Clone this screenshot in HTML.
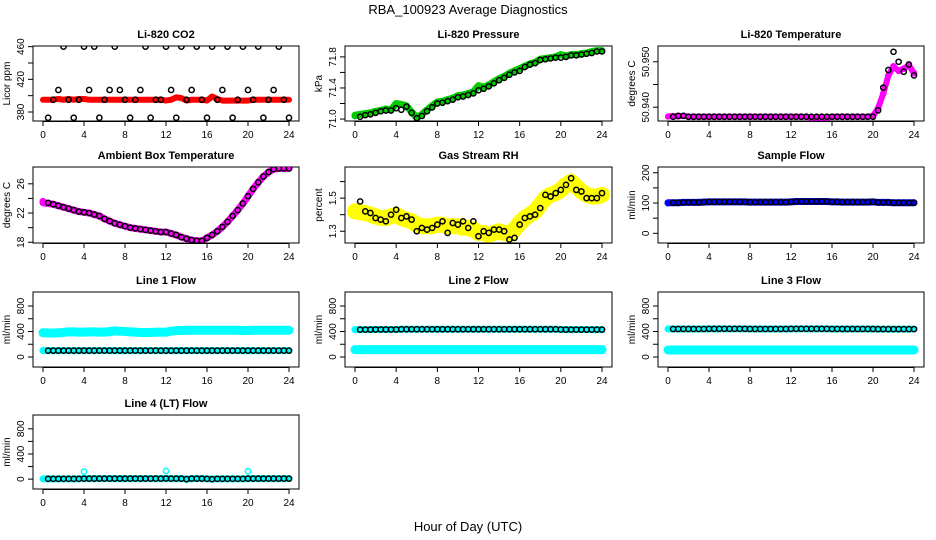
<!DOCTYPE html>
<html><head><meta charset="utf-8"><style>
body{margin:0;background:#fff}
svg{display:block;font-family:"Liberation Sans",sans-serif}
</style></head><body>
<svg id="c" width="936" height="540" viewBox="0 0 936 540">
<text x="468" y="14" text-anchor="middle" font-size="13">RBA_100923  Average Diagnostics</text>
<text x="468" y="531" text-anchor="middle" font-size="13">Hour of Day (UTC)</text>
</svg>
<script>
const hours=[0.5,1,1.5,2,2.5,3,3.5,4,4.5,5,5.5,6,6.5,7,7.5,8,8.5,9,9.5,10,10.5,11,11.5,12,12.5,13,13.5,14,14.5,15,15.5,16,16.5,17,17.5,18,18.5,19,19.5,20,20.5,21,21.5,22,22.5,23,23.5,24];
const co2Avg=[373,395,407,460,395,373,395,460,407,460,373,395,407,460,407,395,373,395,407,460,373,395,395,460,407,373,460,395,407,460,395,373,460,395,407,460,373,395,460,407,395,460,373,395,407,460,395,373];
const co2Raw=[395,395,396,395,396,395,396,396,395,395,395,395,395,395,395,395,395,395,395,395,395,395,395,394,395,398,397,394,395,395,395,394,399,396,394,394,394,394,394,394,395,395,395,395,395,395,395,395];
const pressAvg=[71.03,71.05,71.06,71.08,71.10,71.11,71.11,71.14,71.12,71.16,71.08,71.01,71.04,71.10,71.15,71.20,71.21,71.23,71.25,71.28,71.29,71.31,71.33,71.37,71.39,71.42,71.46,71.50,71.53,71.57,71.60,71.62,71.67,71.70,71.72,71.76,71.77,71.78,71.79,71.79,71.80,71.82,71.82,71.83,71.84,71.85,71.87,71.87];
const pressRaw=[71.05,71.07,71.08,71.10,71.11,71.13,71.12,71.20,71.19,71.17,71.09,71.02,71.06,71.12,71.17,71.22,71.23,71.25,71.27,71.30,71.31,71.33,71.35,71.43,71.41,71.44,71.48,71.52,71.55,71.59,71.62,71.65,71.68,71.71,71.73,71.77,71.78,71.79,71.80,71.83,71.81,71.83,71.83,71.84,71.85,71.87,71.88,71.88];
const tempAvg=[50.9379,50.9381,50.9381,50.9379,50.9379,50.9379,50.9379,50.9379,50.9379,50.9379,50.9379,50.9379,50.9379,50.9379,50.9379,50.9379,50.9379,50.9379,50.9379,50.9379,50.9379,50.9379,50.9379,50.9379,50.9379,50.9379,50.9379,50.9379,50.9379,50.9379,50.9379,50.9379,50.9379,50.9379,50.9379,50.9379,50.9379,50.9379,50.9379,50.9379,50.9393,50.9443,50.9482,50.9522,50.9500,50.9478,50.9494,50.9470];
const tempRaw=[50.9380,50.9380,50.9381,50.9379,50.9379,50.9379,50.9379,50.9379,50.9379,50.9379,50.9379,50.9379,50.9379,50.9379,50.9379,50.9379,50.9379,50.9379,50.9379,50.9379,50.9379,50.9379,50.9379,50.9379,50.9379,50.9379,50.9379,50.9377,50.9377,50.9377,50.9377,50.9379,50.9379,50.9379,50.9379,50.9379,50.9379,50.9379,50.9379,50.9381,50.9398,50.9430,50.9470,50.9490,50.9480,50.9485,50.9492,50.9475];
const ambAvg=[23.4,23.2,23.0,22.8,22.6,22.4,22.2,22.1,22.0,21.8,21.6,21.2,20.9,20.6,20.4,20.2,20.0,19.9,19.8,19.7,19.6,19.5,19.4,19.4,19.2,19.0,18.7,18.5,18.3,18.2,18.2,18.6,19.0,19.5,20.1,20.8,21.6,22.4,23.3,24.3,25.3,26.2,27.0,27.6,28.0,28.1,28.1,28.1];
const rhAvg=[1.48,1.42,1.41,1.38,1.37,1.36,1.40,1.43,1.38,1.39,1.37,1.30,1.32,1.31,1.32,1.34,1.36,1.29,1.35,1.34,1.36,1.32,1.36,1.27,1.30,1.29,1.31,1.31,1.30,1.25,1.26,1.34,1.38,1.39,1.40,1.44,1.52,1.51,1.53,1.55,1.58,1.62,1.55,1.54,1.50,1.50,1.50,1.53];
const rhRaw=[1.42,1.41,1.40,1.39,1.38,1.38,1.39,1.40,1.38,1.37,1.36,1.34,1.33,1.33,1.33,1.34,1.34,1.33,1.33,1.33,1.32,1.32,1.31,1.29,1.29,1.28,1.29,1.30,1.29,1.28,1.31,1.35,1.38,1.40,1.42,1.46,1.50,1.52,1.53,1.55,1.58,1.60,1.57,1.54,1.52,1.51,1.51,1.52];
const sampleAvg=[101,101,102,102,102,102,103,104,104,104,104,104,104,104,104,103,103,103,103,103,103,103,103,104,105,105,105,105,105,105,105,104,104,103,103,103,103,103,103,104,102,102,102,101,101,101,101,101];
const line1High=[380,375,380,385,395,395,390,390,395,395,390,390,400,410,405,400,395,390,385,385,385,390,390,390,405,415,415,420,420,420,420,420,420,420,420,420,420,420,415,415,420,420,420,420,420,420,420,420];
const line1Avg=[100,100,100,100,100,100,100,100,100,100,100,100,100,100,100,100,100,100,100,100,100,100,100,100,100,100,100,100,100,100,100,100,100,100,100,100,100,100,100,100,100,100,100,100,100,100,100,100];
const line2Avg=[430,430,430,432,432,432,432,432,435,435,435,435,435,435,435,435,435,435,435,435,435,435,435,435,435,435,435,435,435,435,435,435,435,435,435,435,435,435,435,432,430,430,430,430,430,430,430,430];
const line2Low=[115,115,115,115,115,115,115,115,115,115,115,115,115,115,115,115,115,115,115,115,115,115,115,115,115,115,115,115,115,115,115,115,115,115,115,115,115,115,115,115,115,115,115,115,115,115,115,115];
const line3Avg=[440,440,440,440,440,440,440,442,442,442,442,442,442,442,442,440,440,440,440,440,440,440,440,442,442,442,442,442,442,442,442,440,440,440,440,440,440,440,440,440,438,438,438,438,438,438,438,438];
const line3Low=[110,110,110,110,110,110,110,110,110,110,110,110,110,110,110,110,110,110,110,110,110,110,110,110,110,110,110,110,110,110,110,110,110,110,110,110,110,110,110,110,110,110,110,110,110,110,110,110];
const line4Avg=[5,5,5,5,5,5,5,8,8,8,8,8,8,8,8,8,8,8,8,8,8,8,8,10,8,8,8,0,8,8,8,5,0,5,5,5,5,5,5,8,8,8,8,8,8,8,8,8];
const line4Spike=[5,5,5,5,5,5,5,120,5,5,5,5,5,5,5,5,5,5,5,5,5,5,5,130,5,5,5,-10,5,5,5,5,5,5,5,5,5,5,5,125,5,5,5,5,5,5,5,5];

const NS="http://www.w3.org/2000/svg";
const svg=document.getElementById('c');
function mk(tag,at,parent){const e=document.createElementNS(NS,tag);for(const k in at)e.setAttribute(k,at[k]);(parent||svg).appendChild(e);return e;}
const cols=[[33,299],[345,612],[658,924]];
const rows=[[46,121],[167,243],[292,367],[415,489]];

function panel(name,col,row,title,ytitle,ymin,ymax,ticks,labels,series){
  const [L,R]=cols[col],[T,B]=rows[row];
  const g=mk('g',{});
  
  
  const xs=h=>L+10+h*(R-L-20)/24;
  const ys=v=>B-(v-ymin)/(ymax-ymin)*(B-T);
  const t=mk('text',{x:(L+R)/2,y:T-8,'text-anchor':'middle','font-size':11,'font-weight':'bold'},g);t.textContent=title;
  
  
  const box=mk('rect',{x:L,y:T,width:R-L,height:B-T,fill:'none',stroke:'#000','stroke-width':1},g);
  
  
  // x axis
  for(let h=0;h<=24;h+=4){
    mk('line',{x1:xs(h),x2:xs(h),y1:B,y2:B+5,stroke:'#000'},g);
    const tl=mk('text',{x:xs(h),y:B+17,'text-anchor':'middle','font-size':10},g);tl.textContent=h;
    
    
  }
  mk('line',{x1:xs(0),x2:xs(24),y1:B+0.5,y2:B+0.5,stroke:'#000'},g);
  ticks.forEach((v,i)=>{
    const y=ys(v);
    mk('line',{x1:L-5,x2:L,y1:y,y2:y,stroke:'#000'},g);
    if(labels[i]){const tl=mk('text',{x:L-9,y:y,'text-anchor':'middle','font-size':10,transform:`rotate(-90 ${L-9} ${y})`},g);tl.textContent=labels[i];
      
      }
  });
  const yt=mk('text',{x:L-23,y:(T+B)/2,'text-anchor':'middle','font-size':10,transform:`rotate(-90 ${L-23} ${(T+B)/2})`},g);yt.textContent=ytitle;
  
  
  const clip='cl'+name;
  const cp=mk('clipPath',{id:clip},g);mk('rect',{x:L,y:T,width:R-L,height:B-T},cp);
  const pg=mk('g',{'clip-path':`url(#${clip})`},g);
  series.forEach(s=>{
    if(s.band){
      const pts=s.vals.map((v,i)=>xs(i===0&&s.start?0:hours[i])+','+ys(v));
      if(s.start!==undefined) pts.unshift(xs(0)+','+ys(s.start));
      const pl=mk('polyline',{points:pts.join(' '),fill:'none',stroke:s.color,'stroke-width':s.band,'stroke-linejoin':'round','stroke-linecap':'round'},pg);
      
      
    }
    if(s.pts){
      s.vals.forEach((v,i)=>{
        const c=mk('circle',{cx:xs(hours[i]),cy:ys(v),r:2.6,fill:'none',stroke:s.color,'stroke-width':1.5},pg);
        
        
      });
    }
  });
}
panel('co2',0,0,'Li-820 CO2','Licor ppm',369,460.8,[380,400,420,440,460],['380','','420','','460'],
 [{n:'co2-raw',vals:co2Raw,start:395,color:'#ff0000',band:6},{n:'co2-avg',vals:co2Avg,color:'#000',pts:1}]);
panel('pressure',1,0,'Li-820 Pressure','kPa',70.975,71.94,[71.0,71.2,71.4,71.6,71.8],['71.0','','71.4','','71.8'],
 [{n:'pressure-raw',vals:pressRaw,start:71.04,color:'#00cc00',band:7},{n:'pressure-avg',vals:pressAvg,color:'#000',pts:1}]);
panel('temperature',2,0,'Li-820 Temperature','degrees C',50.93696,50.95348,[50.940,50.945,50.950],['50.940','','50.950'],
 [{n:'temperature-raw',vals:tempRaw,start:50.9379,color:'#ff00ff',band:6},{n:'temperature-raw-pts',vals:tempRaw,color:'#ff00ff',pts:1},{n:'temperature-avg',vals:tempAvg,color:'#000',pts:1}]);
panel('ambient',0,1,'Ambient Box Temperature','degrees C',17.9,28.3,[18,20,22,24,26],['18','','22','','26'],
 [{n:'ambient-raw',vals:ambAvg,start:23.6,color:'#ff00ff',band:7},{n:'ambient-avg',vals:ambAvg,color:'#000',pts:1}]);
panel('rh',1,1,'Gas Stream RH','percent',1.229,1.688,[1.3,1.4,1.5,1.6],['1.3','','1.5',''],
 [{n:'rh-raw',vals:rhRaw,start:1.42,color:'#ffff00',band:16},{n:'rh-avg',vals:rhAvg,color:'#000',pts:1}]);
panel('sample-flow',2,1,'Sample Flow','ml/min',-32,219,[0,50,100,150,200],['0','','100','','200'],
 [{n:'sample-raw',vals:sampleAvg,start:100,color:'#0000ff',band:7},{n:'sample-avg',vals:sampleAvg,color:'#000',pts:1}]);
panel('line1',0,2,'Line 1 Flow','ml/min',-157,1020,[0,200,400,600,800],['0','','400','','800'],
 [{n:'line1-high',vals:line1High,start:380,color:'#00ffff',band:9},{n:'line1-low',vals:line1Avg,start:105,color:'#00ffff',band:7},{n:'line1-avg',vals:line1Avg,color:'#000',pts:1}]);
panel('line2',1,2,'Line 2 Flow','ml/min',-157,1020,[0,200,400,600,800],['0','','400','','800'],
 [{n:'line2-low',vals:line2Low,start:115,color:'#00ffff',band:9},{n:'line2-high',vals:line2Avg,start:430,color:'#00ffff',band:7},{n:'line2-avg',vals:line2Avg,color:'#000',pts:1}]);
panel('line3',2,2,'Line 3 Flow','ml/min',-157,1020,[0,200,400,600,800],['0','','400','','800'],
 [{n:'line3-low',vals:line3Low,start:110,color:'#00ffff',band:9},{n:'line3-high',vals:line3Avg,start:440,color:'#00ffff',band:7},{n:'line3-avg',vals:line3Avg,color:'#000',pts:1}]);
panel('line4',0,3,'Line 4 (LT) Flow','ml/min',-157,1020,[0,200,400,600,800],['0','','400','','800'],
 [{n:'line4-raw',vals:line4Avg,start:5,color:'#00ffff',band:7},{n:'line4-spikes',vals:line4Spike,color:'#00ffff',pts:1},{n:'line4-avg',vals:line4Avg,color:'#000',pts:1}]);
</script>
</body></html>
